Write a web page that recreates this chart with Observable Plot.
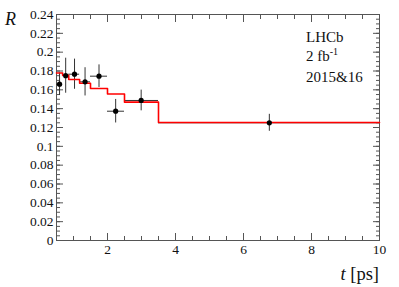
<!DOCTYPE html>
<html><head><meta charset="utf-8">
<script src="https://cdn.jsdelivr.net/npm/d3@7"></script>
<script src="https://cdn.jsdelivr.net/npm/@observablehq/plot@0.6"></script>
<style>
body{margin:0;background:#fff;}
#chart{width:399px;height:287px;}
svg{display:block;}
</style></head><body><div id="chart"></div>
<script>
// bin edges in t [ps]
const binEdges = [0.5, 0.68, 0.86, 1.18, 1.5, 2.0, 2.5, 3.5, 10];
// measured points
const tCenters = [0.59, 0.77, 1.03, 1.34, 1.75, 2.24, 2.99, 6.76];
const rValues = [0.166, 0.175, 0.1766, 0.1685, 0.1745, 0.1373, 0.1487, 0.125];
const rErrors = [0.012, 0.0186, 0.016, 0.015, 0.012, 0.0125, 0.011, 0.009];
// fit (red step)
const fitValues = [0.1779, 0.1755, 0.171, 0.167, 0.1614, 0.1556, 0.1469, 0.1253];
// axis ticks
const xMajor = [2, 4, 6, 8, 10];
const yMajor = [0, 0.02, 0.04, 0.06, 0.08, 0.1, 0.12, 0.14, 0.16, 0.18, 0.2, 0.22, 0.24];
const xMinor = d3.range(0.5, 10.0001, 0.5);
const yMinor = d3.range(0, 0.24001, 0.005);
const texts = {yLabel: "R", xVar: "t", xUnit: " [ps]", exp: "LHCb", lumi: "2 fb", lumiExp: "-1", years: "2015&16"};

const points = tCenters.map((t, i) => ({t, R: rValues[i], lo: rValues[i] - rErrors[i], hi: rValues[i] + rErrors[i], t0: binEdges[i], t1: binEdges[i + 1]}));
const fit = binEdges.map((t, i) => ({t, R: fitValues[Math.min(i, fitValues.length - 1)]}));

const axisColor = "#555";
const fmt = d => String(+d.toFixed(2));
const font = "'Liberation Serif', 'Times New Roman', serif";

const chart = Plot.plot({
  width: 399, height: 287,
  marginLeft: 56, marginRight: 20, marginTop: 14, marginBottom: 47,
  style: {fontFamily: font, fontSize: "13.5px", color: "#222", background: "#fff"},
  x: {domain: [0.5, 10], label: null},
  y: {domain: [0, 0.24], label: null},
  marks: [
    Plot.frame({stroke: axisColor}),
    Plot.axisY(yMajor, {anchor: "left", tickSize: -7, tickPadding: 10, tickFormat: fmt, stroke: axisColor, label: null}),
    Plot.axisY(yMinor, {anchor: "left", tickSize: -4, tickFormat: () => "", stroke: axisColor, label: null}),
    Plot.axisY(yMajor, {anchor: "right", tickSize: -7, tickFormat: () => "", stroke: axisColor, label: null}),
    Plot.axisY(yMinor, {anchor: "right", tickSize: -4, tickFormat: () => "", stroke: axisColor, label: null}),
    Plot.axisX(xMajor, {anchor: "bottom", tickSize: -7, tickPadding: 11, tickFormat: fmt, stroke: axisColor, label: null}),
    Plot.axisX(xMinor, {anchor: "bottom", tickSize: -4, tickFormat: () => "", stroke: axisColor, label: null}),
    Plot.axisX(xMajor, {anchor: "top", tickSize: -7, tickFormat: () => "", stroke: axisColor, label: null}),
    Plot.axisX(xMinor, {anchor: "top", tickSize: -4, tickFormat: () => "", stroke: axisColor, label: null}),
    Plot.ruleX(points, {x: "t", y1: "lo", y2: "hi", stroke: "#333", strokeWidth: 1}),
    Plot.ruleY(points, {y: "R", x1: "t0", x2: "t1", stroke: "#333", strokeWidth: 1}),
    Plot.line(fit, {x: "t", y: "R", curve: "step-after", stroke: "#f00", strokeWidth: 1.6}),
    Plot.dot(points, {x: "t", y: "R", r: 2.6, fill: "#000", stroke: "none"})
  ]
});
document.getElementById("chart").appendChild(chart);

const svg = d3.select(chart);
const add = (x, y, size, anchor) => svg.append("text").attr("x", x).attr("y", y)
  .attr("font-size", size).attr("fill", "#111").attr("text-anchor", anchor);
add(5, 25, "18px", "start").attr("font-style", "italic").text(texts.yLabel);
const xl = add(379, 280, "18.5px", "end");
xl.append("tspan").attr("font-style", "italic").text(texts.xVar);
xl.append("tspan").text(texts.xUnit);
add(306, 42, "15px", "start").text(texts.exp);
const lumi = add(306, 61, "15px", "start");
lumi.append("tspan").text(texts.lumi);
lumi.append("tspan").attr("font-size", "10px").attr("dy", "-6").text(texts.lumiExp);
add(306, 82, "15px", "start").text(texts.years);
svg.selectAll("text, tspan, g").style("font-family", font).style("font-variant", "normal");
svg.selectAll("g[aria-label*='tick label'] text").style("fill", "#111");
</script>
</body></html>
